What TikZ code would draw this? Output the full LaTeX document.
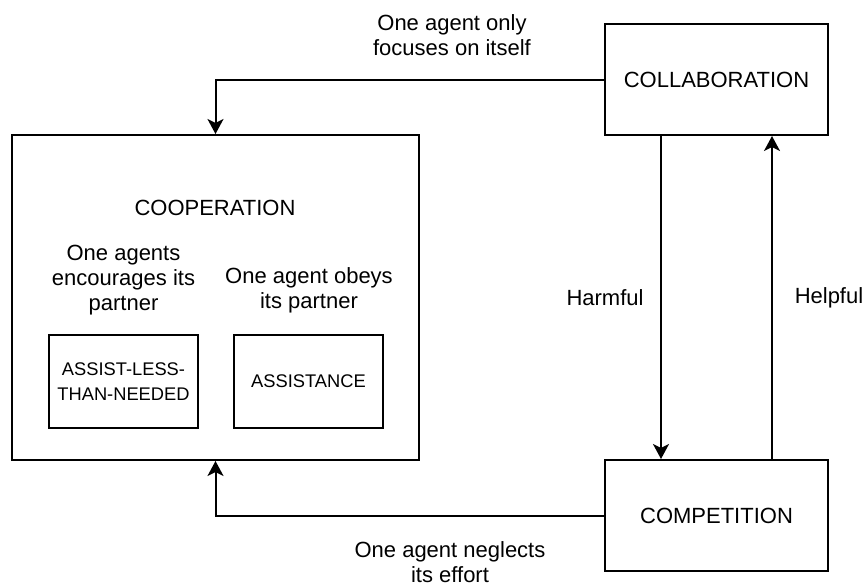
\documentclass[tikz,border=0pt]{standalone}
\usepackage{fontspec}
\setmainfont{Liberation Sans}
\usetikzlibrary{arrows.meta}
\begin{document}
\begin{tikzpicture}[x=1pt,y=-1pt,
  box/.style={draw, line width=2pt, inner sep=0pt, align=center},
  bigtext/.style={font=\fontsize{22}{25}\selectfont, align=center, inner sep=0pt},
  smalltext/.style={font=\fontsize{18.3}{25}\selectfont},
  conn/.style={line width=2pt, -{Stealth[length=15pt,width=16pt,inset=4pt]}},
]
\useasboundingbox (0,0) rectangle (865,587);
% main boxes
\node[box, bigtext, draw, minimum width=223pt, minimum height=111pt] (collab) at (716.5,79.5) {COLLABORATION};
\node[box, bigtext, draw, minimum width=223pt, minimum height=111pt] (comp) at (716.5,515.5) {COMPETITION};
\node[box, minimum width=407pt, minimum height=325pt] (coop) at (215.5,297.5) {};
\node[bigtext] (cooptitle) at (215,208) {COOPERATION};
% inner texts
\node[bigtext] (enc) at (123.5,280) {One agents\\encourages its\\partner};
\node[bigtext] (obey) at (309,290) {One agent obeys\\its partner};
\node[box, smalltext, minimum width=149pt, minimum height=93pt] (altn) at (123.5,381.5) {ASSIST-LESS-\\THAN-NEEDED};
\node[box, smalltext, minimum width=149pt, minimum height=93pt] (assist) at (308.5,381.5) {ASSISTANCE};
% connectors
\draw[conn] (collab.west) -| (coop.north);
\draw[conn] (comp.west) -| (coop.south);
\draw[conn] ([xshift=-55.5pt]collab.south) -- ([xshift=-55.5pt]comp.north);
\draw[conn] ([xshift=55.5pt]comp.north) -- ([xshift=55.5pt]collab.south);
% edge labels
\node[bigtext] (lbltop) at (452,35.5) {One agent only\\focuses on itself};
\node[bigtext] (lblbot) at (450,562) {One agent neglects\\its effort};
\node[bigtext] (lblharm) at (605,298) {Harmful};
\node[bigtext] (lblhelp) at (829,298) {Helpful};
\end{tikzpicture}
\end{document}
